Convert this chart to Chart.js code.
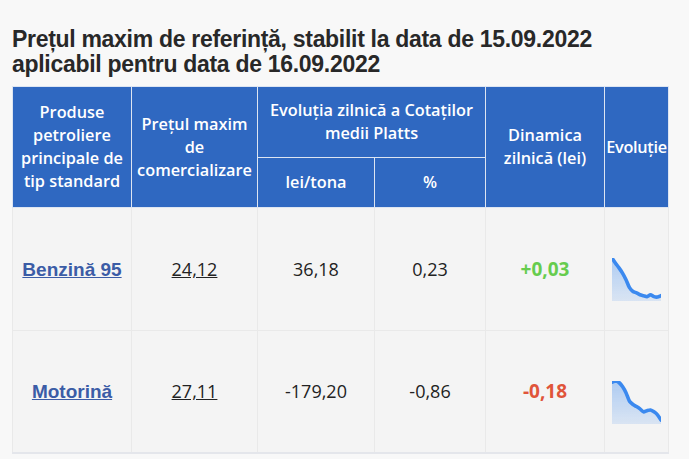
<!DOCTYPE html>
<html><head><meta charset="utf-8">
<script src="https://cdn.jsdelivr.net/npm/chart.js@4.4.1/dist/chart.umd.min.js"></script>
<style>
html,body{margin:0;padding:0;background:#f8f8f8;width:689px;height:459px;overflow:hidden}
h2{position:absolute;left:12px;top:27px;margin:0;font:bold 23px/25px "Liberation Sans",Arial,sans-serif;color:#282828;letter-spacing:-0.3px}
table{position:absolute;left:12px;top:86px;border-collapse:collapse;table-layout:fixed;width:656px}
th{background:#2f68c1;color:#fff;font:600 16.3px/23px "Open Sans",sans-serif;border:1px solid #dde5f2;padding:0 2px;text-align:center;vertical-align:middle}
th.evo{padding:0;overflow:visible;white-space:nowrap;letter-spacing:-0.3px}
td{background:#f4f4f4;border:1px solid #e9e9e9;text-align:center;vertical-align:middle;font:18px "Open Sans",sans-serif;color:#222;padding:0}
tr.last td{border-bottom:2px solid #e4e6eb}
a.prod{font:bold 19px "Liberation Sans",Arial,sans-serif;color:#3b5ca6;text-decoration:underline}
span.price{text-decoration:underline;color:#222}
td.dyn{font-weight:700;font-size:19px}
td.spark{vertical-align:top;padding:0}
.sp{position:relative;width:49px;height:43px;margin:50px 0 0 7px}
</style></head>
<body>
<h2>Prețul maxim de referință, stabilit la data de 15.09.2022<br>aplicabil pentru data de 16.09.2022</h2>
<table id="t">
<colgroup><col style="width:119px"><col style="width:126px"><col style="width:117px"><col style="width:111px"><col style="width:119px"><col style="width:64px"></colgroup>
<thead>
<tr style="height:71px"><th rowspan="2">Produse petroliere principale de tip standard</th><th rowspan="2">Prețul maxim de comercializare</th><th colspan="2">Evoluția zilnică a Cotaților medii Platts</th><th rowspan="2">Dinamica zilnică (lei)</th><th rowspan="2" class="evo">Evoluție</th></tr>
<tr style="height:50px"><th>lei/tona</th><th>%</th></tr>
</thead>
<tbody id="tb"></tbody>
</table>
<script>
const products = ["Benzină 95", "Motorină"];
const prices = ["24,12", "27,11"];
const leiTona = ["36,18", "-179,20"];
const percent = ["0,23", "-0,86"];
const dynamics = ["+0,03", "-0,18"];
const dynColors = ["#66cc4e", "#e0543a"];
const benzinaSeries = [24.92, 24.81, 24.71, 24.60, 24.46, 24.29, 24.21, 24.18, 24.14, 24.12, 24.10, 24.14, 24.10, 24.09, 24.12];
const motorinaSeries = [28.40, 28.44, 28.39, 28.25, 28.04, 27.75, 27.64, 27.57, 27.49, 27.39, 27.43, 27.45, 27.39, 27.29, 27.11];
const series = [benzinaSeries, motorinaSeries];
const rowHeights = [123, 122];

const tb = document.getElementById('tb');
products.forEach((p, i) => {
  const tr = document.createElement('tr');
  tr.style.height = rowHeights[i] + 'px';
  if (i === products.length - 1) tr.className = 'last';
  tr.innerHTML =
    '<td><a class="prod" href="#">' + p + '</a></td>' +
    '<td><span class="price">' + prices[i] + '</span></td>' +
    '<td>' + leiTona[i] + '</td>' +
    '<td>' + percent[i] + '</td>' +
    '<td class="dyn" style="color:' + dynColors[i] + '">' + dynamics[i] + '</td>' +
    '<td class="spark"><div class="sp"><canvas id="c' + i + '"></canvas></div></td>';
  tb.appendChild(tr);
});

series.forEach((data, i) => {
  const mn = Math.min(...data), mx = Math.max(...data);
  new Chart(document.getElementById('c' + i), {
    type: 'line',
    data: {
      labels: data.map((_, k) => k),
      datasets: [{
        data: data,
        borderColor: '#3b89ef',
        borderWidth: 3.6,
        pointRadius: 0,
        tension: 0.25,
        borderCapStyle: 'round',
        borderJoinStyle: 'round',
        fill: 'start',
        backgroundColor: (ctx) => {
          const ca = ctx.chart.chartArea;
          if (!ca) return 'rgba(59,137,239,0.25)';
          const g = ctx.chart.ctx.createLinearGradient(0, ca.top, 0, ca.bottom);
          g.addColorStop(0, 'rgba(59,137,239,0.38)');
          g.addColorStop(1, 'rgba(59,137,239,0.14)');
          return g;
        }
      }]
    },
    options: {
      responsive: true,
      maintainAspectRatio: false,
      animation: false,
      clip: false,
      layout: { padding: 0 },
      plugins: { legend: { display: false }, tooltip: { enabled: false } },
      scales: {
        x: { display: false, offset: false },
        y: { display: false, min: mn - (mx - mn) * 0.1, max: mx }
      }
    }
  });
});
</script>
</body></html>
